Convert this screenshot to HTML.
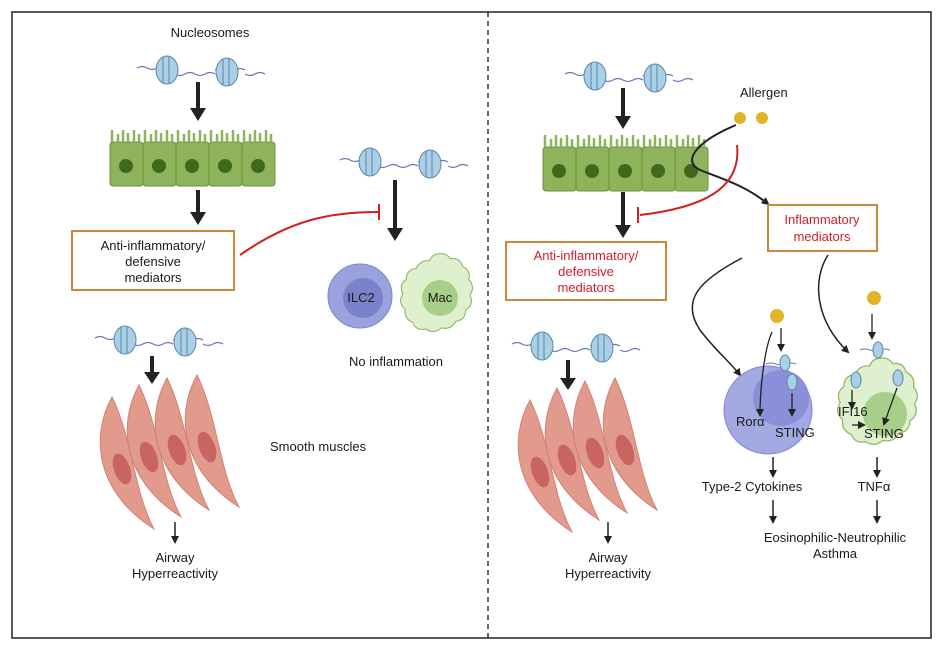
<!DOCTYPE html>
<html><head><meta charset="utf-8"><style>
html,body{margin:0;padding:0;background:#fff;width:942px;height:656px;overflow:hidden}
text{font-family:"Liberation Sans",sans-serif;font-size:13px;fill:#1a1a1a}
</style></head><body>
<svg width="942" height="656" viewBox="0 0 942 656" xmlns="http://www.w3.org/2000/svg">
<defs>
<marker id="ah" markerWidth="8" markerHeight="8" refX="6" refY="4" orient="auto" markerUnits="userSpaceOnUse"><path d="M0,0 L8,4 L0,8 Z" fill="#222"/></marker>
<g id="nuc">
<path d="M0,8 q5,-3 10,0 t10,0 t10,0 t8,0 M38,14 q5,3 10,0 t10,0 t10,0 t10,0 M78,10 q5,-3 10,0 t10,0 t10,0 M108,14 q5,3 10,0 t10,0" stroke="#6a78b8" stroke-width="1.3" fill="none"/>
<ellipse cx="30" cy="10" rx="11" ry="14" fill="#a9d0e6" stroke="#5d86a8"/>
<path d="M26,-3 v26 M32,-3 v26" stroke="#5d86a8"/>
<ellipse cx="90" cy="12" rx="11" ry="14" fill="#a9d0e6" stroke="#5d86a8"/>
<path d="M86,-1 v26 M92,-1 v26" stroke="#5d86a8"/>
</g>
<g id="epi">
<g fill="#8fb35a" stroke="#6e8f3e">
<rect x="0" y="14" width="33" height="44" rx="3"/><rect x="33" y="14" width="33" height="44" rx="3"/><rect x="66" y="14" width="33" height="44" rx="3"/><rect x="99" y="14" width="33" height="44" rx="3"/><rect x="132" y="14" width="33" height="44" rx="3"/>
</g>
<path d="M2,14 v-12 M8,14 v-8 M13,14 v-12 M18,14 v-9 M24,14 v-12 M29,14 v-8 M35,14 v-12 M41,14 v-8 M46,14 v-12 M51,14 v-9 M57,14 v-12 M62,14 v-8 M68,14 v-12 M74,14 v-8 M79,14 v-12 M84,14 v-9 M90,14 v-12 M95,14 v-8 M101,14 v-12 M107,14 v-8 M112,14 v-12 M117,14 v-9 M123,14 v-12 M128,14 v-8 M134,14 v-12 M140,14 v-8 M145,14 v-12 M150,14 v-9 M156,14 v-12 M161,14 v-8" stroke="#8fb35a" stroke-width="2.5"/>
<g fill="#3f6a1e"><circle cx="16" cy="38" r="7"/><circle cx="49" cy="38" r="7"/><circle cx="82" cy="38" r="7"/><circle cx="115" cy="38" r="7"/><circle cx="148" cy="38" r="7"/></g>
</g>
<g id="spin">
<path d="M0,0 C-22,40 -16,95 42,132 C22,95 20,40 0,0 Z" fill="#e29a8c" stroke="#d18274"/>
<ellipse cx="10" cy="72" rx="8" ry="16" transform="rotate(-20 10 72)" fill="#c96560"/>
</g>
<g id="musc">
<use href="#spin" x="0" y="22"/><use href="#spin" x="27" y="10"/><use href="#spin" x="55" y="3"/><use href="#spin" x="85" y="0"/>
</g>
<path id="macp" d="M437,258 q8,-2 12,4 q9,-1 11,7 q8,4 6,12 q6,7 1,14 q4,9 -4,14 q0,9 -9,10 q-4,8 -13,6 q-7,6 -14,1 q-9,2 -12,-6 q-8,-3 -7,-12 q-7,-6 -2,-14 q-4,-8 3,-13 q0,-9 9,-10 q4,-8 12,-7 q3,-6 7,-6 Z"/>
</defs>
<rect x="12" y="12" width="919" height="626" fill="none" stroke="#222" stroke-width="1.5"/>
<line x1="488" y1="12" x2="488" y2="638" stroke="#333" stroke-width="1.5" stroke-dasharray="5,4"/>

<!-- LEFT -->
<text x="210" y="37" text-anchor="middle">Nucleosomes</text>
<use href="#nuc" x="137" y="60"/>
<path d="M196,82 V108 h-6 l8,13 l8,-13 h-6 V82 Z" fill="#222"/>
<use href="#epi" x="110" y="128"/>
<path d="M196,190 V212 h-6 l8,13 l8,-13 h-6 V190 Z" fill="#222"/>
<rect x="72" y="231" width="162" height="59" fill="#fff" stroke="#c8893a" stroke-width="2"/>
<text x="153" y="250" text-anchor="middle">Anti-inflammatory/</text>
<text x="153" y="266" text-anchor="middle">defensive</text>
<text x="153" y="282" text-anchor="middle">mediators</text>
<path d="M240,255 C290,220 330,212 378,212" stroke="#d02020" stroke-width="2" fill="none"/>
<path d="M379,204 V220" stroke="#d02020" stroke-width="2"/>
<use href="#nuc" x="340" y="152"/>
<path d="M393,180 V228 h-6 l8,13 l8,-13 h-6 V180 Z" fill="#222"/>
<circle cx="360" cy="296" r="32" fill="#9aa2de" stroke="#7c86c8"/>
<circle cx="363" cy="298" r="20" fill="#7b82cc"/>
<text x="361" y="302" text-anchor="middle">ILC2</text>
<use href="#macp" transform="translate(437 296) scale(1.1) translate(-437 -296)" fill="#dff0cf" stroke="#8cb868"/>
<circle cx="440" cy="298" r="18" fill="#a8cf8a"/>
<text x="440" y="302" text-anchor="middle">Mac</text>
<text x="396" y="366" text-anchor="middle">No inflammation</text>
<use href="#nuc" x="95" y="330"/>
<path d="M150,356 V372 h-6 l8,12 l8,-12 h-6 V356 Z" fill="#222"/>
<use href="#musc" x="112" y="375"/>
<text x="270" y="451">Smooth muscles</text>
<line x1="175" y1="522" x2="175" y2="542" stroke="#222" stroke-width="1.5" marker-end="url(#ah)"/>
<text x="175" y="562" text-anchor="middle">Airway</text>
<text x="175" y="578" text-anchor="middle">Hyperreactivity</text>

<!-- RIGHT -->
<use href="#nuc" x="565" y="66"/>
<path d="M621,88 V116 h-6 l8,13 l8,-13 h-6 V88 Z" fill="#222"/>
<use href="#epi" x="543" y="133"/>
<text x="740" y="97">Allergen</text>
<circle cx="740" cy="118" r="6" fill="#e1b52a"/><circle cx="762" cy="118" r="6" fill="#e1b52a"/>
<path d="M736,125 C700,140 680,160 700,170 C720,178 745,185 768,204" stroke="#222" stroke-width="2" fill="none" marker-end="url(#ah)"/>
<path d="M737,145 C742,190 700,208 640,215" stroke="#d02020" stroke-width="2" fill="none"/>
<path d="M638,207 V223" stroke="#d02020" stroke-width="2"/>
<path d="M621,192 V225 h-6 l8,13 l8,-13 h-6 V192 Z" fill="#222"/>
<rect x="506" y="242" width="160" height="58" fill="#fff" stroke="#c8893a" stroke-width="2"/>
<text x="586" y="260" text-anchor="middle" style="fill:#d02030">Anti-inflammatory/</text>
<text x="586" y="276" text-anchor="middle" style="fill:#d02030">defensive</text>
<text x="586" y="292" text-anchor="middle" style="fill:#d02030">mediators</text>
<rect x="768" y="205" width="109" height="46" fill="#fff" stroke="#c8893a" stroke-width="2"/>
<text x="822" y="224" text-anchor="middle" style="fill:#d02030">Inflammatory</text>
<text x="822" y="241" text-anchor="middle" style="fill:#d02030">mediators</text>
<use href="#nuc" x="512" y="336"/>
<path d="M566,360 V378 h-6 l8,12 l8,-12 h-6 V360 Z" fill="#222"/>
<use href="#musc" x="530" y="378"/>
<line x1="608" y1="522" x2="608" y2="542" stroke="#222" stroke-width="1.5" marker-end="url(#ah)"/>
<text x="608" y="562" text-anchor="middle">Airway</text>
<text x="608" y="578" text-anchor="middle">Hyperreactivity</text>

<path d="M742,258 C700,280 680,300 700,330 C715,350 730,362 740,375" stroke="#222" stroke-width="1.5" fill="none" marker-end="url(#ah)"/>
<path d="M828,255 C812,280 815,320 848,352" stroke="#222" stroke-width="1.5" fill="none" marker-end="url(#ah)"/>
<circle cx="777" cy="316" r="7" fill="#e1b52a"/>
<circle cx="874" cy="298" r="7" fill="#e1b52a"/>
<circle cx="768" cy="410" r="44" fill="#a3a9e2" stroke="#8289d0"/>
<circle cx="781" cy="398" r="28" fill="#8a8fd8"/>
<path d="M772,332 C764,350 760,390 760,415" stroke="#222" stroke-width="1.3" fill="none" marker-end="url(#ah)"/>
<line x1="781" y1="328" x2="781" y2="350" stroke="#222" stroke-width="1.3" marker-end="url(#ah)"/>
<path d="M766,364 q5,-2 10,0 t10,0 t10,0" stroke="#6a78b8" fill="none"/><ellipse cx="785" cy="363" rx="5" ry="8" fill="#a9d0e6" stroke="#5d86a8"/>
<ellipse cx="792" cy="382" rx="5" ry="8" fill="#a9d0e6" stroke="#5d86a8"/>
<line x1="792" y1="393" x2="792" y2="415" stroke="#222" stroke-width="1.3" marker-end="url(#ah)"/>
<text x="736" y="426">Rorα</text>
<text x="775" y="437">STING</text>
<use href="#macp" transform="translate(878 405) scale(1.22) translate(-437 -296)" fill="#def0cd" stroke="#8cb868"/>
<circle cx="885" cy="414" r="22" fill="#a8cf8a"/>
<line x1="872" y1="314" x2="872" y2="338" stroke="#222" stroke-width="1.3" marker-end="url(#ah)"/>
<path d="M860,350 q5,-2 10,0 t10,0 t10,0" stroke="#6a78b8" fill="none"/><ellipse cx="878" cy="350" rx="5" ry="8" fill="#a9d0e6" stroke="#5d86a8"/>
<ellipse cx="856" cy="380" rx="5" ry="8" fill="#a9d0e6" stroke="#5d86a8"/>
<ellipse cx="898" cy="378" rx="5" ry="8" fill="#a9d0e6" stroke="#5d86a8"/>
<line x1="852" y1="390" x2="852" y2="408" stroke="#222" stroke-width="1.3" marker-end="url(#ah)"/>
<line x1="897" y1="388" x2="884" y2="424" stroke="#222" stroke-width="1.3" marker-end="url(#ah)"/>
<line x1="852" y1="425" x2="864" y2="425" stroke="#222" stroke-width="1.3" marker-end="url(#ah)"/>
<text x="838" y="416">IFI16</text>
<text x="864" y="438">STING</text>
<line x1="773" y1="457" x2="773" y2="476" stroke="#222" stroke-width="1.5" marker-end="url(#ah)"/>
<text x="752" y="491" text-anchor="middle">Type-2 Cytokines</text>
<line x1="877" y1="457" x2="877" y2="476" stroke="#222" stroke-width="1.5" marker-end="url(#ah)"/>
<text x="874" y="491" text-anchor="middle">TNFα</text>
<line x1="773" y1="500" x2="773" y2="522" stroke="#222" stroke-width="1.5" marker-end="url(#ah)"/>
<line x1="877" y1="500" x2="877" y2="522" stroke="#222" stroke-width="1.5" marker-end="url(#ah)"/>
<text x="835" y="542" text-anchor="middle">Eosinophilic-Neutrophilic</text>
<text x="835" y="558" text-anchor="middle">Asthma</text>
</svg>
</body></html>
